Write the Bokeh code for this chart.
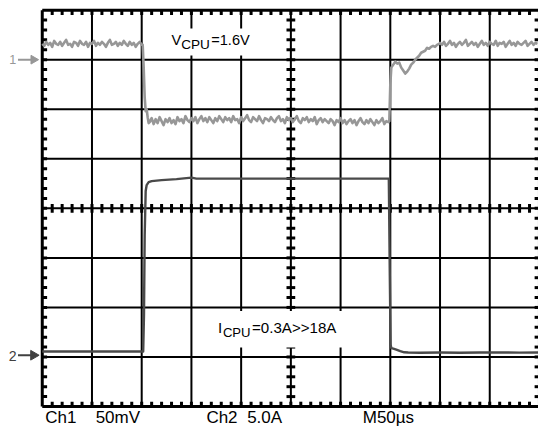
from bokeh.plotting import figure
from bokeh.models import Range1d
from bokeh.embed import file_html
from bokeh.resources import INLINE
from bokeh.core.properties import value
import math

# ---------------- data ----------------
# Channel 1: VCPU deviation from 1.6 V, in mV (50 mV/div); time in µs (50 µs/div)
ch1_t = [0, 2, 4, 6, 8, 10, 12, 14, 16, 18, 20, 22, 24, 26, 28, 30, 32, 34, 36, 38, 40, 42, 44, 46, 48, 50,
         52, 54, 56, 58, 60, 62, 64, 66, 68, 70, 72, 74, 76, 78, 80, 82, 84, 86, 88, 90, 92, 94, 96, 98, 100,
         101, 102, 103, 104, 105, 106, 107,
         108, 110, 112, 114, 116, 118, 120, 122, 124, 126, 128, 130, 132, 134, 136, 138, 140, 142, 144, 146,
         148, 150, 152, 154, 156, 158, 160, 162, 164, 166, 168, 170, 172, 174, 176, 178, 180, 182, 184, 186,
         188, 190, 192, 194, 196, 198, 200, 202, 204, 206, 208, 210, 212, 214, 216, 218, 220, 222, 224, 226,
         228, 230, 232, 234, 236, 238, 240, 242, 244, 246, 248, 250, 252, 254, 256, 258, 260, 262, 264, 266,
         268, 270, 272, 274, 276, 278, 280, 282, 284, 286, 288, 290, 292, 294, 296, 298, 300, 302, 304, 306,
         308, 310, 312, 314, 316, 318, 320, 322, 324, 326, 328, 330, 332, 334, 336, 338, 340, 342, 344, 346, 348,
         349, 350, 351, 353, 355, 357, 359, 361, 363, 365, 367, 369, 371, 373, 375, 377, 379, 381, 383, 385,
         387, 389, 391, 393, 395, 397, 399,
         400, 402, 404, 406, 408, 410, 412, 414, 416, 418, 420, 422, 424, 426, 428, 430, 432, 434, 436, 438,
         440, 442, 444, 446, 448, 450, 452, 454, 456, 458, 460, 462, 464, 466, 468, 470, 472, 474, 476, 478,
         480, 482, 484, 486, 488, 490, 492, 494, 496, 498]
ch1_mv = [16, 14, 18, 15, 17, 13, 19, 16, 15, 18,
          14, 17, 20, 15, 16, 13, 18, 17, 14, 19,
          16, 15, 18, 13, 17, 16, 19, 14, 17, 15,
          18, 16, 13, 17, 20, 15, 16, 18, 14, 17,
          15, 19, 16, 14, 18, 15, 17, 13, 16, 18,
          15,
          15, -8, -38, -52, -50, -58, -64,
          -63, -59, -65, -60, -64, -58, -62, -66, -60, -63,
          -59, -64, -61, -65, -58, -62, -60, -64, -57, -61,
          -63, -59, -62, -58, -64, -60, -57, -62, -59, -63,
          -58, -61, -64, -59, -62, -57, -60, -63, -58, -61,
          -59, -63, -57, -61, -60, -64, -58, -62, -59, -56,
          -61, -63, -58, -60, -62, -57, -61, -64, -59, -60,
          -62, -58, -61, -63, -59, -57, -62, -60, -64, -58,
          -61, -59, -63, -60, -57, -62, -64, -59, -61, -58,
          -63, -60, -62, -58, -65, -61, -59, -63, -60, -62,
          -64, -60, -62, -66, -61, -63, -59, -64, -61, -65,
          -62, -60, -64, -61, -66, -62, -59, -63, -65, -61,
          -64, -60, -63, -66, -61, -64, -62, -59, -65, -62,
          -63,
          -62, -25, -8, -5, -2, -4, -3, -8, -11, -14, -12, -9, -5, -3, 0, 2, 4, 7, 8, 9,
          12, 11, 13, 14, 13, 15, 16,
          17, 15, 18, 14, 16, 19, 15, 17, 13, 16,
          18, 15, 17, 20, 14, 16, 18, 15, 17, 13,
          16, 19, 15, 17, 14, 18, 16, 15, 19, 14,
          17, 16, 18, 13, 16, 19, 15, 17, 14, 18,
          16, 15, 17, 19, 14, 16, 18, 15, 17, 16]

# Channel 2: ICPU in A (5 A/div)
ch2_t = [0, 30, 60, 90, 101.5, 102.3, 103, 104, 105, 107, 110, 120, 135, 150, 155, 200, 250, 300, 348.5,
         349.5, 350.3, 351, 353, 356, 360, 364, 368, 380, 400, 420, 440, 460, 480, 499]
ch2_a = [0.3, 0.3, 0.3, 0.3, 0.3, 4.0, 12.0, 16.5, 17.1, 17.4, 17.5, 17.6, 17.7, 17.85, 17.75, 17.75, 17.75,
         17.75, 17.75, 8.0, 1.0, 0.65, 0.6, 0.5, 0.35, 0.22, 0.2, 0.18, 0.2, 0.18, 0.2, 0.2, 0.19, 0.2]

bottom_labels = ["Ch1", "50mV", "Ch2", "5.0A", "M50\u00b5s"]

# ---------------- scope settings (positions / scales) ----------------
CH1_POS, CH1_SCALE = 3.0, 50.0     # divisions, mV/div
CH2_POS, CH2_SCALE = -2.95, 5.0    # divisions, A/div
T_DIV = 50.0                       # µs/div

W, H = 538, 428                    # fits the 554x444 window with its 8px page margin
S = W / 554.0                      # overall scale versus the reference


def fs(px):
    return "%.1fpx" % (px * S)


# helpers: reference-pixel layout -> data units
def rx(x):
    return (x - 43.0) * T_DIV / 51.2


def ry(y):
    return (215.6 - y) / 51.4


def dx(px):
    return px * T_DIV / 51.2


def dy(px):
    return px / 51.4


p = figure(width=W, height=H, x_range=Range1d(rx(0), rx(554)), y_range=Range1d(ry(444), ry(0)),
           output_backend="svg", toolbar_location=None, min_border=0,
           x_axis_location=None, y_axis_location=None)
p.grid.visible = False
p.outline_line_color = None
p.background_fill_color = "white"
p.border_fill_color = "white"

K = "black"
# major grid lines
vx = [i * T_DIV for i in range(1, 10)]
p.segment(x0=vx, y0=[-4] * len(vx), x1=vx, y1=[4] * len(vx), line_color=K, line_width=2)
hy = [-3, -2, -1, 0, 1, 2, 3]
p.segment(x0=[0] * len(hy), y0=hy, x1=[500] * len(hy), y1=hy, line_color=K, line_width=2)
# border
p.segment(x0=[0, 0, 0, 500], y0=[-4, 4, -4, -4], x1=[0, 500, 500, 500], y1=[4, 4, -4, 4],
          line_color=K, line_width=3)

# minor ticks
mt = [i * 10 for i in range(1, 50)]
mv = [-4 + 0.2 * i for i in range(1, 40)]
L = 5.0
p.segment(x0=mt, y0=[4] * len(mt), x1=mt, y1=[4 - dy(L)] * len(mt), line_color=K, line_width=3)
p.segment(x0=mt, y0=[-4] * len(mt), x1=mt, y1=[-4 + dy(L)] * len(mt), line_color=K, line_width=3)
p.segment(x0=[0] * len(mv), y0=mv, x1=[dx(L)] * len(mv), y1=mv, line_color=K, line_width=3)
p.segment(x0=[500] * len(mv), y0=mv, x1=[500 - dx(L)] * len(mv), y1=mv, line_color=K, line_width=3)
C = 4.5
p.segment(x0=mt, y0=[-dy(C)] * len(mt), x1=mt, y1=[dy(C)] * len(mt), line_color=K, line_width=3)
p.segment(x0=[250 - dx(C)] * len(mv), y0=mv, x1=[250 + dx(C)] * len(mv), y1=mv, line_color=K, line_width=3)

# label boxes hiding the grid
p.quad(left=[rx(165), rx(212)], right=[rx(268), rx(356)], top=[ry(29), ry(322)], bottom=[ry(57), ry(360)],
       fill_color="white", line_color=None)

# traces
ch1_y = [CH1_POS + v / CH1_SCALE for v in ch1_mv]
ch2_y = [CH2_POS + a / CH2_SCALE for a in ch2_a]
p.line(ch1_t, ch1_y, line_color="#979797", line_width=2.6, line_join="round")
p.line(ch2_t, ch2_y, line_color="#4a4a4a", line_width=2.4, line_join="round")

FONT = value("Liberation Sans")
# channel markers
p.segment(x0=[rx(18)], y0=[CH1_POS], x1=[rx(33)], y1=[CH1_POS], line_color="#979797", line_width=2)
p.scatter(x=[rx(34)], y=[CH1_POS], marker="triangle", size=9 * S, angle=-math.pi / 2,
          fill_color="#979797", line_color="#979797")
p.text(x=[rx(9)], y=[ry(65.5)], text=["1"], text_font=FONT, text_font_size=fs(13), text_color="#979797")
p.segment(x0=[rx(18)], y0=[ry(368)], x1=[rx(33)], y1=[ry(368)], line_color="#404040", line_width=2)
p.scatter(x=[rx(34)], y=[ry(368)], marker="triangle", size=10 * S, angle=-math.pi / 2,
          fill_color="#404040", line_color="#404040")
p.text(x=[rx(8.5)], y=[ry(373.5)], text=["2"], text_font=FONT, text_font_size=fs(14.5), text_color="#404040")

# in-plot labels
p.text(x=[rx(176), rx(217)], y=[ry(49), ry(49)], text=["V", "=1.6V"], text_font=FONT,
       text_font_size=fs(15), text_color="black")
p.text(x=[rx(186)], y=[ry(53)], text=["CPU"], text_font=FONT, text_font_size=fs(14), text_color="black")
p.text(x=[rx(224), rx(259)], y=[ry(348), ry(348)], text=["I", "=0.3A>>18A"], text_font=FONT,
       text_font_size=fs(15.5), text_color="black")
p.text(x=[rx(229)], y=[ry(352)], text=["CPU"], text_font=FONT, text_font_size=fs(13.5), text_color="black")

# bottom scale labels
p.text(x=[rx(46), rx(98), rx(212), rx(254), rx(373)], y=[ry(442)] * 5, text=bottom_labels,
       text_font=FONT, text_font_size=fs(17.5), text_color="black")

open("out.html", "w").write(file_html(p, INLINE))
